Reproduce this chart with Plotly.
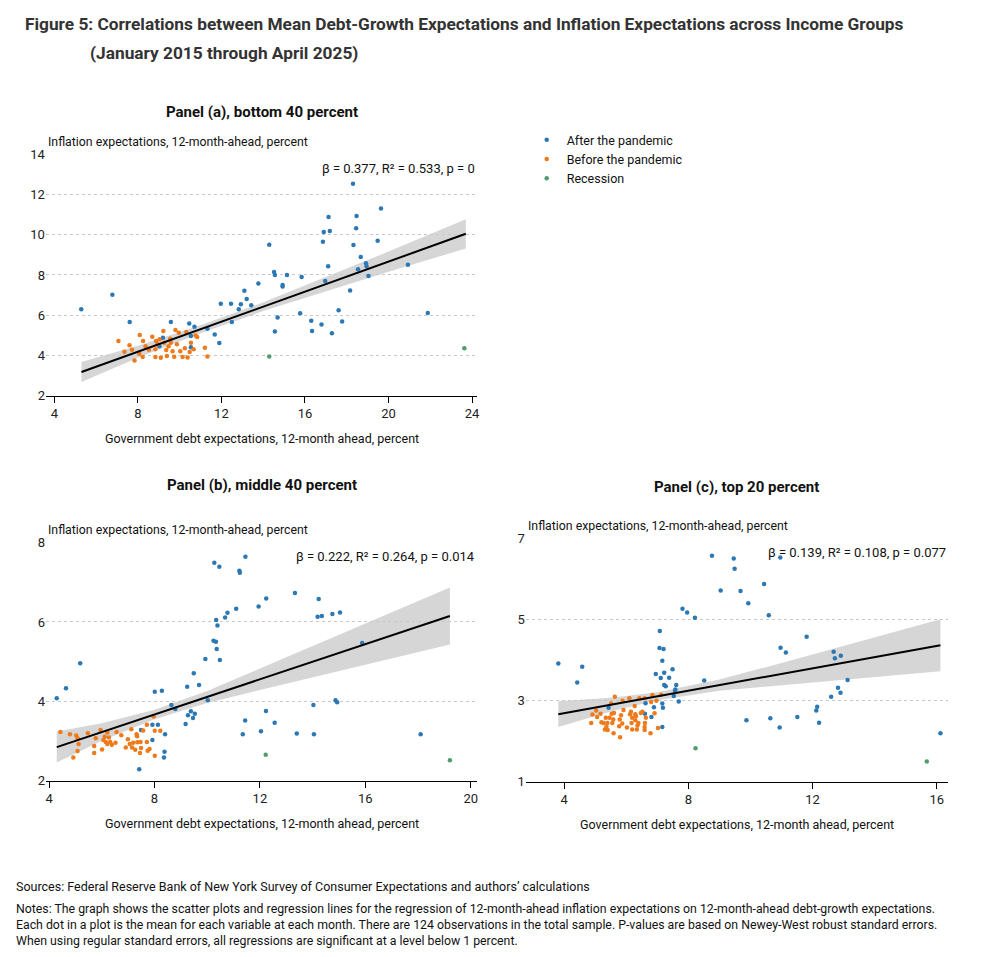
import numpy as np
import plotly.graph_objects as go

FONT = "Roboto, Arial"
C_AFTER = "#2b78b4"
C_BEFORE = "#ee7a1b"
C_REC = "#4f9c6c"

# ---------------- Panel (a) ----------------
a_after_x = [5.29,6.78,7.61,9.58,10.46,10.71,9.2,9.03,10.54,10.54,11.33,11.68,11.9,11.97,12.46,12.5,12.83,12.93,13.1,13.21,13.43,13.77,14.29,14.52,14.56,15.14,14.93,14.93,14.69,14.56,15.84,15.77,16.3,16.34,16.79,16.86,16.9,17.19,17.13,17.11,16.97,17.29,17.61,17.78,18.16,18.3,18.32,18.45,18.47,18.54,18.67,18.92,18.95,19.04,19.48,19.64,20.93,21.88]
a_after_y = [6.29,7.02,5.66,5.66,5.59,5.43,4.88,4.46,4.41,4.96,5.33,5.04,4.61,6.57,6.57,5.66,6.29,6.54,7.22,6.80,6.50,7.58,9.51,8.15,8.0,8.0,7.5,7.43,5.89,5.19,7.9,6.1,5.72,5.21,5.54,9.66,10.14,10.19,10.88,8.44,7.70,5.1,6.24,5.69,7.23,12.54,9.49,10.32,10.93,8.28,8.89,8.58,8.44,7.95,9.70,11.31,8.51,6.11]
a_before_x = [7.07,7.36,7.6,7.72,7.84,8.09,8.07,8.25,8.23,8.37,8.53,8.69,8.87,8.84,8.84,8.94,9.1,9.22,9.26,9.36,9.39,9.47,9.58,9.66,9.74,9.8,9.87,9.96,10.03,10.14,10.25,10.32,10.38,10.48,10.54,10.67,10.76,10.84,11.21,11.33,9.04,9.55]
a_before_y = [4.71,4.18,4.5,4.28,3.75,5.01,4.08,4.71,3.92,4.45,4.28,4.93,4.71,4.30,3.92,4.55,3.88,5.21,4.63,4.27,3.97,4.46,4.63,4.21,3.93,5.26,4.55,5.13,4.21,3.92,4.35,5.16,3.9,4.17,4.63,4.3,4.99,4.91,4.38,3.95,4.8,4.83]
a_rec_x = [14.29,23.63]
a_rec_y = [3.95,4.36]
a_line_x = [5.3,23.7]
a_line_y = [3.17,10.05]
a_band_x = [5.3,8,11,14,17,20,23.7]
a_band_half = [0.5,0.3,0.2,0.22,0.35,0.5,0.73]

# ---------------- Panel (b) ----------------
b_after_x = [4.29,4.64,5.18,8.01,8.28,8.64,8.79,7.92,8.13,7.92,8.4,8.38,8.36,7.42,7.49,9.24,9.18,9.27,9.38,9.46,9.53,9.49,9.69,9.93,10.02,10.24,10.33,10.36,10.34,10.39,10.48,10.27,10.46,10.68,10.77,11.1,11.22,11.24,11.45,11.35,11.44,11.95,12.24,12.04,12.23,12.56,13.33,13.4,14.23,14.19,14.35,14.75,15.04,14.03,14.05,14.87,14.93,15.88,18.1]
b_after_y = [4.08,4.33,4.96,4.24,4.27,3.91,3.81,3.41,3.41,3.03,3.17,2.73,2.59,2.29,3.28,4.37,3.43,3.65,3.75,3.58,3.69,4.71,4.41,5.07,4.03,5.53,5.5,5.32,6.05,5.91,5.04,7.49,7.39,6.11,6.23,6.33,7.29,7.24,7.64,3.17,3.52,6.39,6.59,3.25,3.76,3.46,6.73,3.19,6.58,6.13,6.15,6.2,6.24,3.91,3.17,4.03,3.98,5.47,3.17]
b_before_x = [4.43,4.79,4.92,5.03,5.08,5.12,5.08,5.47,5.71,5.71,5.77,5.95,6.01,6.06,6.11,6.15,6.21,6.21,6.27,6.32,6.38,6.52,6.56,6.74,6.91,6.99,7.06,7.12,7.15,7.19,7.27,7.32,7.35,7.45,7.47,7.49,7.57,7.71,7.71,7.74,7.81,7.97,8.01,8.01,8.22,7.34]
b_before_y = [3.23,3.17,2.59,3.14,3.07,2.93,2.75,3.2,2.88,2.7,3.07,3.28,2.79,3.03,3.11,2.98,3.22,2.93,3.09,2.98,2.91,2.96,3.23,3.15,2.84,3.05,2.93,3.3,2.84,2.96,2.78,3.17,2.97,2.7,2.98,2.83,3.27,3.41,2.98,2.76,2.8,3.62,3.26,2.63,3.26,3.12]
b_rec_x = [12.22,19.21]
b_rec_y = [2.66,2.52]
b_line_x = [4.29,19.21]
b_line_y = [2.85,6.15]
b_band_x = [4.29,6,8,10,12,15,19.21]
b_band_half = [0.39,0.22,0.12,0.15,0.27,0.45,0.72]

# ---------------- Panel (c) ----------------
c_after_x = [3.81,4.42,4.58,5.43,6.62,6.6,6.81,6.89,6.95,7.08,7.07,7.2,7.16,7.22,7.11,7.38,7.49,7.22,7.27,7.61,7.58,7.57,7.53,7.69,7.16,7.18,7.16,7.81,7.96,8.21,8.51,8.76,9.04,9.46,9.49,9.68,9.93,9.87,10.44,10.59,10.64,10.94,10.96,10.97,11.14,11.51,11.81,12.12,12.15,12.21,12.6,12.68,12.72,12.91,12.82,12.9,13.13,16.12]
c_after_y = [3.92,3.45,3.84,2.83,2.94,2.68,2.6,2.84,3.66,4.72,4.3,4.28,3.99,3.69,3.56,3.57,3.78,3.39,3.36,3.39,3.28,3.25,3.12,2.98,2.93,2.83,2.35,5.27,5.18,5.05,3.5,6.58,5.72,6.51,6.26,5.71,5.41,2.52,5.88,5.11,2.57,2.34,6.54,4.31,4.19,2.6,4.58,2.76,2.85,2.46,3.1,4.21,4.05,4.11,3.32,3.2,3.51,2.2]
c_before_x = [4.87,4.91,5.03,5.06,5.17,5.2,5.27,5.31,5.34,5.36,5.39,5.4,5.46,5.53,5.55,5.59,5.58,5.6,5.51,5.63,5.8,5.77,5.79,5.83,5.87,5.88,5.91,6.02,6.1,6.12,6.15,6.17,6.19,6.19,6.27,6.29,6.29,6.31,6.34,6.36,6.39,6.42,6.47,6.52,6.59,6.59,6.59,6.6,6.63,6.78,6.8,6.84,6.91,7.02,6.97,7.12]
c_before_y = [2.45,2.66,2.76,2.6,2.68,2.47,2.45,2.29,2.58,2.36,2.45,2.28,2.58,2.68,2.45,2.2,2.54,2.7,2.93,3.1,2.1,2.37,2.54,2.64,2.44,3.0,2.77,2.34,3.06,2.67,2.73,2.45,2.29,2.58,2.87,2.67,2.52,2.62,2.29,2.39,2.45,3.06,2.7,2.73,3.06,2.35,2.28,2.45,2.58,2.2,2.97,3.14,2.69,2.33,3.0,3.15]
c_rec_x = [8.23,15.68]
c_rec_y = [1.83,1.5]
c_line_x = [3.81,16.12]
c_line_y = [2.67,4.37]
c_band_x = [3.81,5.5,7,9,11,13.5,16.12]
c_band_half = [0.32,0.17,0.1,0.14,0.27,0.45,0.64]

panels = [
    dict(ax="", after=(a_after_x,a_after_y), before=(a_before_x,a_before_y), rec=(a_rec_x,a_rec_y),
         line=(a_line_x,a_line_y), band=(a_band_x,a_band_half), xr=[3.6,24.25], yr=[2,14],
         xt=[4,8,12,16,20,24], yt=[2,4,6,8,10,12,14], dx=[0.0384,0.475], dy=[0.596,0.852],
         tdy=0.033, stat="β = 0.377, R² = 0.533, p = 0", title="Panel (a), bottom 40 percent", legend=True),
    dict(ax="2", after=(b_after_x,b_after_y), before=(b_before_x,b_before_y), rec=(b_rec_x,b_rec_y),
         line=(b_line_x,b_line_y), band=(b_band_x,b_band_half), xr=[3.88,20.25], yr=[2,8],
         xt=[4,8,12,16,20], yt=[2,4,6,8], dx=[0.0384,0.475], dy=[0.187,0.440],
         tdy=0.049, stat="β = 0.222, R² = 0.264, p = 0.014", title="Panel (b), middle 40 percent", legend=False),
    dict(ax="3", after=(c_after_x,c_after_y), before=(c_before_x,c_before_y), rec=(c_rec_x,c_rec_y),
         line=(c_line_x,c_line_y), band=(c_band_x,c_band_half), xr=[2.76,16.35], yr=[1,7],
         xt=[4,8,12,16], yt=[1,3,5,7], dx=[0.524,0.951], dy=[0.186,0.444],
         tdy=0.043, stat="β = 0.139, R² = 0.108, p = 0.077", title="Panel (c), top 20 percent", legend=False),
]

fig = go.Figure()
annotations = []
for p in panels:
    xa, ya = "x" + p["ax"], "y" + p["ax"]
    bx = np.array(p["band"][0]); bh = np.array(p["band"][1])
    cy = np.interp(bx, p["line"][0], p["line"][1])
    fig.add_trace(go.Scatter(x=list(bx)+list(bx[::-1]), y=list(cy+bh)+list((cy-bh)[::-1]),
                             fill="toself", fillcolor="rgba(200,200,200,0.75)", line=dict(width=0),
                             mode="lines", hoverinfo="skip", showlegend=False, xaxis=xa, yaxis=ya))
    for name, (xs, ys), col in [("After the pandemic", p["after"], C_AFTER),
                                ("Before the pandemic", p["before"], C_BEFORE),
                                ("Recession", p["rec"], C_REC)]:
        fig.add_trace(go.Scatter(x=xs, y=ys, mode="markers", name=name,
                                 marker=dict(color=col, size=4.5, symbol="circle"),
                                 showlegend=p["legend"], xaxis=xa, yaxis=ya))
    fig.add_trace(go.Scatter(x=p["line"][0], y=p["line"][1], mode="lines",
                             line=dict(color="black", width=2), showlegend=False, xaxis=xa, yaxis=ya))
    ax_kw = dict(domain=p["dx"], range=p["xr"], tickvals=p["xt"], showline=True, linecolor="black",
                 linewidth=1, ticks="outside", ticklen=6, tickcolor="black", showgrid=False,
                 zeroline=False, anchor=ya, tickfont=dict(size=13, color="#222", family=FONT))
    ay_kw = dict(domain=p["dy"], range=p["yr"], tickvals=p["yt"], showline=False, showgrid=True,
                 gridcolor="#c8c8c8", griddash="dot", gridwidth=1, zeroline=False, anchor=xa,
                 ticks="", tickfont=dict(size=13, color="#222", family=FONT))
    fig.update_layout(**{"xaxis"+p["ax"]: ax_kw, "yaxis"+p["ax"]: ay_kw})
    x0, x1 = p["dx"]; y0, y1 = p["dy"]
    annotations += [
        dict(text="<b>" + p["title"] + "</b>", x=(x0+x1)/2, y=y1+p["tdy"], xref="paper", yref="paper",
             showarrow=False, font=dict(size=15, family=FONT, color="#111"), xanchor="center", yanchor="bottom"),
        dict(text="Inflation expectations, 12-month-ahead, percent", x=x0, y=y1+0.004,
             xref="paper", yref="paper", showarrow=False, xanchor="left", yanchor="bottom",
             font=dict(size=12.3, family=FONT, color="#111")),
        dict(text="Government debt expectations, 12-month ahead, percent", x=(x0+x1)/2, y=y0-0.035,
             xref="paper", yref="paper", showarrow=False, xanchor="center", yanchor="top",
             font=dict(size=12.5, family=FONT, color="#111")),
        dict(text=p["stat"], x=x1, y=y1-0.005, xref="paper", yref="paper", showarrow=False,
             xanchor="right", yanchor="top", font=dict(size=13, family=FONT, color="#111")),
    ]

annotations += [
    dict(text="<b>Figure 5: Correlations between Mean Debt-Growth Expectations and Inflation Expectations across Income Groups</b>",
         x=0.015, y=1.003, xref="paper", yref="paper", showarrow=False, xanchor="left", yanchor="top",
         font=dict(size=17.3, family=FONT, color="#333")),
    dict(text="<b>(January 2015 through April 2025)</b>", x=0.081, y=0.972, xref="paper", yref="paper",
         showarrow=False, xanchor="left", yanchor="top", font=dict(size=17.3, family=FONT, color="#333")),
    dict(text="Sources: Federal Reserve Bank of New York Survey of Consumer Expectations and authors’ calculations",
         x=0.006, y=0.085, xref="paper", yref="paper", showarrow=False, xanchor="left", yanchor="top",
         font=dict(size=12.5, family=FONT, color="#111")),
    dict(text="Notes: The graph shows the scatter plots and regression lines for the regression of 12-month-ahead inflation expectations on 12-month-ahead debt-growth expectations.<br>"
              "Each dot in a plot is the mean for each variable at each month. There are 124 observations in the total sample. P-values are based on Newey-West robust standard errors.<br>"
              "When using regular standard errors, all regressions are significant at a level below 1 percent.",
         x=0.006, y=0.060, xref="paper", yref="paper", showarrow=False, xanchor="left", yanchor="top",
         align="left", font=dict(size=12.3, family=FONT, color="#111")),
]

fig.update_layout(width=991, height=957, margin=dict(l=0, r=0, t=0, b=0),
                  paper_bgcolor="white", plot_bgcolor="white", annotations=annotations,
                  font=dict(family=FONT),
                  legend=dict(x=0.525, y=0.883, xanchor="left", yanchor="top", bgcolor="rgba(0,0,0,0)",
                              font=dict(size=12.5, family=FONT, color="#111"),
                              tracegroupgap=0, itemwidth=30))
fig.update_traces(selector=dict(showlegend=True), legendgroup=None)
fig.write_html("out.html")
